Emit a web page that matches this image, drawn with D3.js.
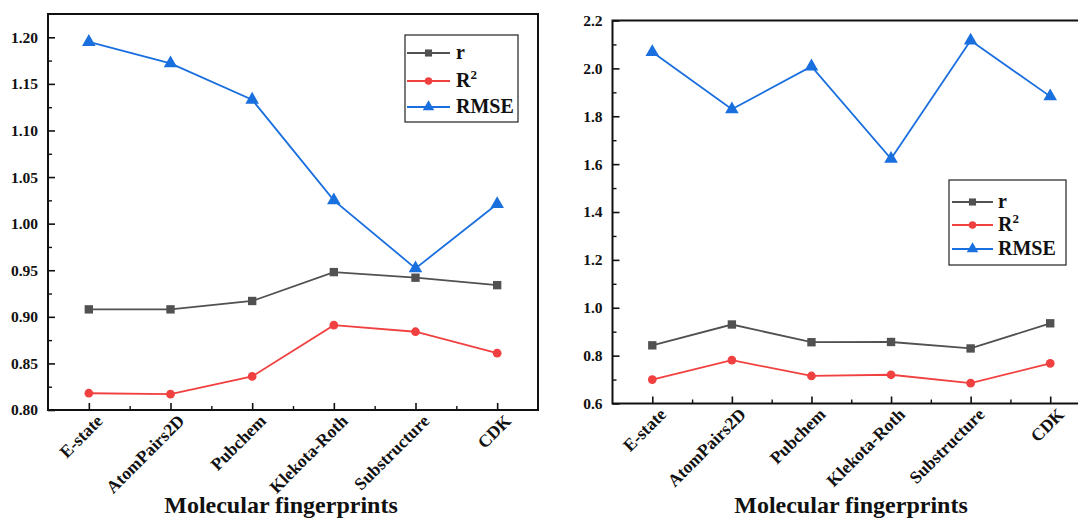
<!DOCTYPE html>
<html lang="en">
<head>
    <meta charset="UTF-8">
    <script src="https://d3js.org/d3.v7.min.js"></script>
    <title>Molecular fingerprints</title>
    <style>
        body { margin: 0; background: #fff; }
        svg text { font-family: "Liberation Serif", "Times New Roman", serif !important; font-weight: bold; fill: #111; }
    </style>
</head>
<body>
    <div id="chart"></div>
    <script>
        // data
        const categories = ["E-state", "AtomPairs2D", "Pubchem", "Klekota-Roth", "Substructure", "CDK"];
        const seriesNames = ["r", "R2", "RMSE"];

        const rLeft = [0.908, 0.908, 0.917, 0.948, 0.942, 0.934];
        const r2Left = [0.818, 0.817, 0.836, 0.891, 0.884, 0.861];
        const rmseLeft = [1.195, 1.172, 1.133, 1.025, 0.952, 1.021];

        const rRight = [0.843, 0.930, 0.856, 0.857, 0.830, 0.935];
        const r2Right = [0.700, 0.781, 0.715, 0.720, 0.685, 0.768];
        const rmseRight = [2.068, 1.829, 2.008, 1.622, 2.116, 1.883];

        const leftTicks = [0.80, 0.85, 0.90, 0.95, 1.00, 1.05, 1.10, 1.15, 1.20];
        const rightTicks = [0.6, 0.8, 1.0, 1.2, 1.4, 1.6, 1.8, 2.0, 2.2];

        const colors = { r: "#515151", R2: "#F14040", RMSE: "#1A6FDF" };
        const serif = "'Liberation Serif', 'Times New Roman', serif";

        const width = 1078, height = 521;
        const svg = d3.select("#chart").append("svg")
            .attr("width", width)
            .attr("height", height)
            .attr("font-family", serif);

        const panels = [
            {
                left: 48, right: 538, top: 14, bottom: 410,
                domain: [0.8, 1.225], ticks: leftTicks, fmt: ".2f", step: 0.05,
                series: [rLeft, r2Left, rmseLeft],
                legend: { x: 405, y: 35, w: 113, h: 87, rows: [53, 81, 107], line: [407, 450], text: 456 },
                titleX: 281
            },
            {
                left: 612.5, right: 1090, top: 20.5, bottom: 403.5,
                domain: [0.6, 2.2], ticks: rightTicks, fmt: ".1f", step: 0.2,
                series: [rRight, r2Right, rmseRight],
                legend: { x: 949, y: 180, w: 117, h: 85, rows: [202, 225, 249], line: [952, 993], text: 998 },
                titleX: 851
            }
        ];

        panels.forEach(p => {
            const g = svg.append("g");

            const x = d3.scalePoint()
                .domain(categories)
                .range([p.left, p.right])
                .padding(0.5);

            const y = d3.scaleLinear()
                .domain(p.domain)
                .range([p.bottom, p.top]);

            // minor ticks half way between majors
            const minorY = p.ticks.slice(0, -1).map(t => t + p.step / 2);
            const step = x.step();
            const minorX = categories.slice(0, -1).map(c => x(c) + step / 2);

            // y axis
            const yAxis = g.append("g")
                .attr("transform", `translate(${p.left},0)`)
                .call(d3.axisLeft(y).tickValues(p.ticks).tickFormat(d3.format(p.fmt))
                    .tickSizeInner(-7).tickSizeOuter(0).tickPadding(10));
            yAxis.attr("font-family", serif);
            yAxis.select(".domain").remove();
            yAxis.selectAll("line").attr("stroke", "#111").attr("stroke-width", 1.6);
            yAxis.selectAll("text")
                .style("font-family", serif)
                .style("font-size", "15.5px");

            g.append("g")
                .attr("transform", `translate(${p.left},0)`)
                .call(d3.axisLeft(y).tickValues(minorY).tickFormat("").tickSizeInner(-4).tickSizeOuter(0))
                .call(a => a.select(".domain").remove())
                .selectAll("line").attr("stroke", "#111").attr("stroke-width", 1.4);

            // x axis
            const xAxis = g.append("g")
                .attr("transform", `translate(0,${p.bottom})`)
                .call(d3.axisBottom(x).tickSizeInner(-7).tickSizeOuter(0).tickFormat(""));
            xAxis.select(".domain").remove();
            xAxis.selectAll("line").attr("stroke", "#111").attr("stroke-width", 1.6);

            g.append("g")
                .attr("transform", `translate(0,${p.bottom})`)
                .call(d3.axisBottom(d3.scaleLinear().range([0, width]).domain([0, width]))
                    .tickValues(minorX).tickFormat("").tickSizeInner(-4).tickSizeOuter(0))
                .call(a => a.select(".domain").remove())
                .selectAll("line").attr("stroke", "#111").attr("stroke-width", 1.4);

            // rotated category labels
            g.selectAll(".cat")
                .data(categories)
                .join("text")
                .attr("class", "cat")
                .attr("text-anchor", "end")
                .attr("transform", d => `translate(${x(d) + 15},${p.bottom + 12}) rotate(-45)`)
                .style("font-family", serif)
                .style("font-size", "17.5px")
                .text(d => d);

            // frame
            g.append("rect")
                .attr("x", p.left)
                .attr("y", p.top)
                .attr("width", p.right - p.left)
                .attr("height", p.bottom - p.top)
                .attr("fill", "none")
                .attr("stroke", "#111")
                .attr("stroke-width", 2);

            // lines and markers
            const line = d3.line()
                .x((d, i) => x(categories[i]))
                .y(d => y(d));

            p.series.forEach((vals, si) => {
                const name = seriesNames[si];
                g.append("path")
                    .datum(vals)
                    .attr("fill", "none")
                    .attr("stroke", colors[name])
                    .attr("stroke-width", 1.8)
                    .attr("d", line);

                g.selectAll(".m" + si)
                    .data(vals)
                    .join("path")
                    .attr("class", "m" + si)
                    .attr("transform", (d, i) => `translate(${x(categories[i])},${y(d)})`)
                    .attr("fill", colors[name])
                    .attr("d", markerPath(si, 1));
            });

            // legend
            const L = p.legend;
            g.append("rect")
                .attr("x", L.x).attr("y", L.y)
                .attr("width", L.w).attr("height", L.h)
                .attr("fill", "#fff")
                .attr("stroke", "#222")
                .attr("stroke-width", 1.2);

            seriesNames.forEach((name, si) => {
                const cy = L.rows[si];
                g.append("line")
                    .attr("x1", L.line[0]).attr("x2", L.line[1])
                    .attr("y1", cy).attr("y2", cy)
                    .attr("stroke", colors[name])
                    .attr("stroke-width", 1.8);
                g.append("path")
                    .attr("transform", `translate(${(L.line[0] + L.line[1]) / 2},${cy})`)
                    .attr("fill", colors[name])
                    .attr("d", markerPath(si, 0.85));
                const t = g.append("text")
                    .attr("x", L.text)
                    .attr("y", cy + 6)
                    .style("font-family", serif)
                    .style("font-size", "20px");
                if (name === "R2") {
                    t.append("tspan").text("R");
                    t.append("tspan").attr("dy", -8).style("font-size", "13px").text("2");
                } else {
                    t.text(name);
                }
            });

            // axis title
            g.append("text")
                .attr("x", p.titleX)
                .attr("y", 513)
                .attr("text-anchor", "middle")
                .style("font-family", serif)
                .style("font-size", "24px")
                .text("Molecular fingerprints");
        });

        function markerPath(si, k) {
            if (si === 0) return d3.symbol(d3.symbolSquare, 70 * k * k)();
            if (si === 1) return d3.symbol(d3.symbolCircle, 60 * k * k)();
            return d3.symbol(d3.symbolTriangle, 80 * k * k)();
        }
    </script>
</body>
</html>
